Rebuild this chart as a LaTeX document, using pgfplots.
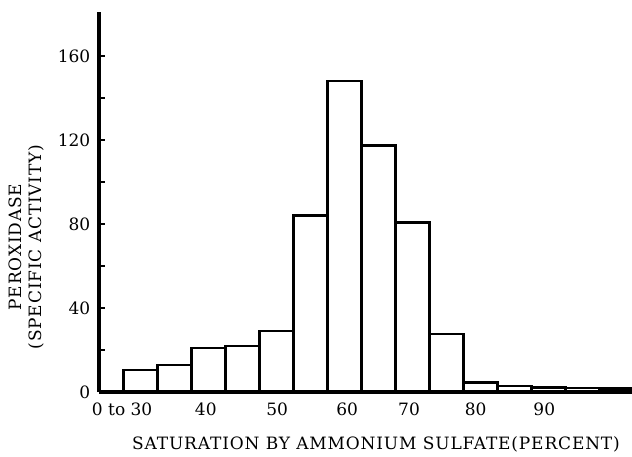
\documentclass[border=0pt]{standalone}
\usepackage{fontspec}
\setmainfont{DejaVu Serif}
\newfontfamily\lblfont[LetterSpace=5]{DejaVu Serif}
\usepackage{pgfplots}
\pgfplotsset{compat=1.18}

\begin{document}
\begin{tikzpicture}
  % page frame: 632 x 456 px at 0.5pt per px, axis corner at (99.3,392) px
  \useasboundingbox (-49.65pt,-32pt) rectangle (266.35pt,196pt);
  \begin{axis}[
    at={(0pt,0pt)}, anchor=south west,
    scale only axis,
    width=266.35pt, height=190pt,
    xmin=23.94, xmax=102.3,
    ymin=0, ymax=181,
    axis x line=bottom, axis y line=left,
    axis line style={-, line width=1.8pt},
    axis on top,
    clip=true,
    ytick={0,40,...,160},
    minor ytick={20,60,100,140},
    tick align=inside,
    major tick length=3pt, minor tick length=3pt,
    ytick style={line width=0.8pt, black},
    xtick={27.3,39.6,50.1,60.4,69.5,79.3,89.4},
    xticklabels={0 to 30,40,50,60,70,80,90},
    xtick style={draw=none},
    /pgf/number format/assume math mode=true,
    tick label style={font=\fontsize{8.5}{10}\selectfont},
    yticklabel style={xshift=-1pt},
    xticklabel style={yshift=-2pt},
  ]
    \addplot[ybar, bar width=17pt, fill=white, draw=black, line width=1.2pt]
      coordinates {
        (30,10.5) (35,12.8) (40,21) (45,22) (50,29)
        (55,84) (60,148) (65,117.5) (70,80.8) (75,27.5)
        (80,4.6) (85,2.8) (90,2.2) (95,1.9) (100,1.6)
      };
  \end{axis}
  \node[font=\lblfont\fontsize{8.5}{10}\selectfont, inner sep=0pt]
    at (138.35pt,-26pt) {SATURATION BY AMMONIUM SULFATE(PERCENT)};
  \node[font=\lblfont\fontsize{8.5}{10}\selectfont, rotate=90, align=center, inner sep=0pt]
    at (-36.6pt,72.5pt) {PEROXIDASE\\(SPECIFIC ACTIVITY)};
\end{tikzpicture}
\end{document}
